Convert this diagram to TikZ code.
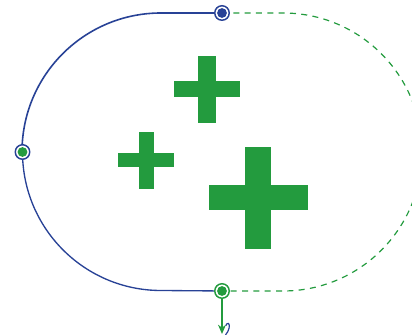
\documentclass[tikz,border=0pt]{standalone}
\usetikzlibrary{arrows.meta}
\definecolor{dblue}{RGB}{40,66,150}
\definecolor{dgreen}{RGB}{35,155,62}
\begin{document}
\begin{tikzpicture}[x=0.75pt,y=0.75pt,
  ring/.style n args={2}{circle,draw=#1,line width=1.1pt,fill=white,inner sep=0pt,minimum size=14.5*0.75pt,
    path picture={\fill[#2] (path picture bounding box.center) circle (4.9*0.75pt);}},
  bluepath/.style={draw=dblue,line width=1pt},
  greendash/.style={draw=dgreen,line width=0.9pt,dash pattern=on 4.5pt off 4pt},
  crossfill/.style={fill=dgreen}]
\useasboundingbox (0,0) rectangle (412,335);
\begin{scope}
\clip (0,0) rectangle (412,335);
% dashed green outline
\coordinate (dtop) at (283,322);
\draw[greendash] (222,322) -- (dtop) arc[start angle=90,end angle=-90,radius=139] -- (222,44);
% blue outline
\draw[bluepath,line width=1.2pt] (222,322) -- (161,322) arc[start angle=90,end angle=180,radius=139];
\draw[bluepath] (22.5,183) arc[start angle=180,end angle=270,radius=138.5] -- (222,44);
\end{scope}
% crosses
\fill[crossfill] (198,279.3) rectangle (215.7,212.3);
\fill[crossfill] (173.7,254) rectangle (240,238);
\fill[crossfill] (139.3,203) rectangle (153.7,146.3);
\fill[crossfill] (118.3,181.7) rectangle (174.3,167.7);
\fill[crossfill] (245,187.7) rectangle (271.3,86.3);
\fill[crossfill] (209,149.7) rectangle (308.3,124.7);
% bottom arrow and curl
\coordinate (aend) at (222,1);
\node[ring={dgreen}{dgreen}] (bot) at (222,44) {};
\draw[draw=dgreen,line width=0.9pt,-{Stealth[length=7pt,width=6pt]}] (bot.south) -- (aend);
\draw[dblue,line width=0.9pt] (225.5,0) .. controls (229,4) and (230.5,10) .. (228.5,11.5) .. controls (227.5,12.2) and (226.3,11) .. (226,9.5);
% dots
\node[ring={dblue}{dblue}] (top) at (222,322) {};
\node[ring={dblue}{dgreen}] (left) at (22.5,183) {};
\end{tikzpicture}
\end{document}
